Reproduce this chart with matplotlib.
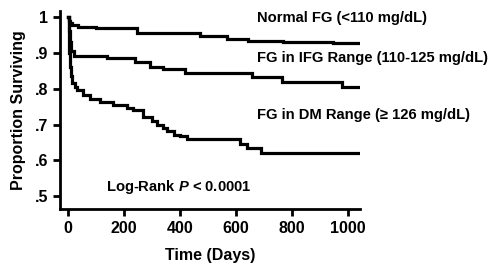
import matplotlib.pyplot as plt

plt.rcParams['font.family'] = ['Liberation Sans', 'DejaVu Sans']
plt.rcParams['mathtext.fontset'] = 'custom'
plt.rcParams['mathtext.bfit'] = 'Liberation Sans:bold:italic'
plt.rcParams['mathtext.it'] = 'Liberation Sans:italic'
plt.rcParams['mathtext.bf'] = 'Liberation Sans:bold'
plt.rcParams['mathtext.rm'] = 'Liberation Sans'

# Kaplan-Meier step data
normal_days = [0, 2, 6, 14, 36, 100, 246, 471, 568, 643, 768, 946, 1036]
normal_surv = [1.0, 0.99, 0.985, 0.978, 0.972, 0.969, 0.955, 0.947, 0.94, 0.933, 0.93, 0.927, 0.927]

ifg_days = [0, 2, 5, 10, 20, 139, 239, 293, 339, 418, 657, 764, 979, 1036]
ifg_surv = [1.0, 0.96, 0.93, 0.905, 0.892, 0.886, 0.875, 0.861, 0.856, 0.844, 0.833, 0.82, 0.806, 0.806]

dm_days = [0, 2, 4, 7, 10, 15, 25, 32, 54, 79, 114, 161, 210, 232, 268, 300, 318,
           340, 354, 380, 400, 425, 614, 640, 690, 1036]
dm_surv = [1.0, 0.94, 0.9, 0.86, 0.835, 0.816, 0.805, 0.797, 0.783, 0.772, 0.764, 0.756,
           0.747, 0.742, 0.722, 0.71, 0.70, 0.69, 0.681, 0.672, 0.667, 0.661, 0.645,
           0.635, 0.62, 0.62]

labels = ['Normal FG (<110 mg/dL)', 'FG in IFG Range (110-125 mg/dL)', 'FG in DM Range (\u2265 126 mg/dL)']
label_y = [0.997, 0.886, 0.728]

xticks = [0, 200, 400, 600, 800, 1000]
yticks = [0.5, 0.6, 0.7, 0.8, 0.9, 1.0]
ytick_labels = ['.5', '.6', '.7', '.8', '.9', '1']

fig = plt.figure(figsize=(4.93, 2.64), dpi=100)
ax = fig.add_axes([0.1217, 0.2083, 0.6085, 0.7497])

for d, s in [(normal_days, normal_surv), (ifg_days, ifg_surv), (dm_days, dm_surv)]:
    ax.step(d, s, where='post', color='black', lw=2.3, solid_joinstyle='miter')

for lab, yy in zip(labels, label_y):
    ax.text(675, yy, lab, fontsize=10.6, fontweight='bold', va='center', ha='left', clip_on=False)

ax.text(136, 0.525, 'Log-Rank $\\boldsymbol{P}$ < 0.0001', fontsize=10.6, fontweight='bold', va='center')

ax.set_xlim(-29, 1043)
ax.set_ylim(0.464, 1.017)
ax.set_xticks(xticks)
ax.set_xticklabels([str(t) for t in xticks], fontsize=11.5, fontweight='bold')
ax.set_yticks(yticks)
ax.set_yticklabels(ytick_labels, fontsize=11.5, fontweight='bold')
ax.tick_params(width=2, length=5, direction='out')

for sp in ['top', 'right']:
    ax.spines[sp].set_visible(False)
for sp in ['left', 'bottom']:
    ax.spines[sp].set_linewidth(2)

ax.set_xlabel('Time (Days)', fontsize=11.5, fontweight='bold', labelpad=9)
ax.set_ylabel('Proportion Surviving', fontsize=11.5, fontweight='bold', labelpad=6)

fig.savefig('out.png', dpi=100)
